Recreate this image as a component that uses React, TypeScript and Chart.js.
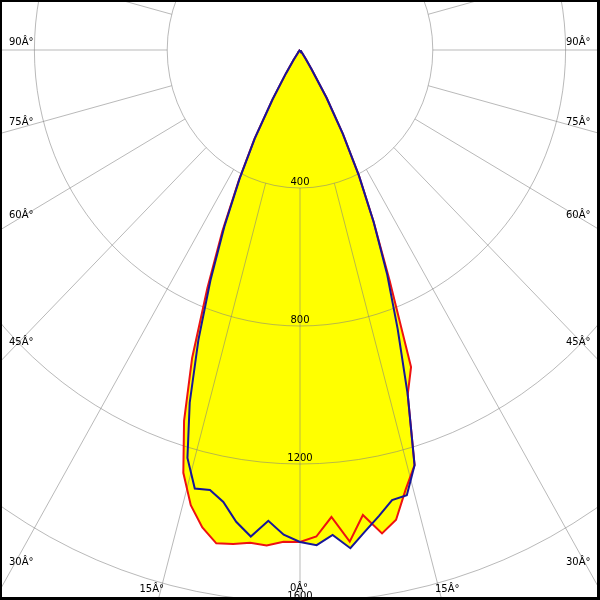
import React, { useEffect, useRef } from "react";
import { Chart, registerables } from "chart.js";

Chart.register(...registerables);

// Vertical angles (degrees from nadir)
const ANGLES = [
  0, 2, 4, 6, 8, 10, 12, 14, 16, 18, 20, 22, 24, 26, 28, 30, 32, 34, 36, 38,
  40, 42, 44, 46, 48, 50, 52, 54, 56, 58, 60, 62, 64, 66, 68, 70, 72, 74, 76,
  78, 80, 82, 84, 86, 88, 90,
];

// Luminous intensity (cd) – C0-C180 plane (red): left half = C180, right half = C0
const RED_LEFT = [
  1426, 1426, 1440, 1436, 1446, 1452, 1415, 1360, 1275, 1130, 950, 745, 575,
  420, 292, 166, 80, 35, 15, 8, 5, 4, 3, 3, 2, 2, 2, 2, 1, 1, 1, 1, 1, 1, 1, 1,
  0, 0, 0, 0, 0, 0, 0, 0, 0, 0,
];
const RED_RIGHT = [
  1426, 1411, 1357, 1433, 1361, 1423, 1392, 1314, 1252, 1050, 978, 720, 545,
  405, 275, 160, 65, 32, 15, 8, 5, 4, 3, 3, 2, 2, 2, 2, 1, 1, 1, 1, 1, 1, 1, 1,
  0, 0, 0, 0, 0, 0, 0, 0, 0, 0,
];
// C90-C270 plane (blue): left half = C270, right half = C90
const BLUE_LEFT = [
  1426, 1406, 1368, 1418, 1381, 1330, 1304, 1310, 1230, 1075, 895, 720, 560,
  415, 290, 165, 80, 35, 15, 8, 5, 4, 3, 3, 2, 2, 2, 2, 1, 1, 1, 1, 1, 1, 1, 1,
  0, 0, 0, 0, 0, 0, 0, 0, 0, 0,
];
const BLUE_RIGHT = [
  1426, 1436, 1409, 1452, 1409, 1371, 1334, 1330, 1252, 1050, 860, 700, 545,
  405, 275, 160, 65, 32, 15, 8, 5, 4, 3, 3, 2, 2, 2, 2, 1, 1, 1, 1, 1, 1, 1, 1,
  0, 0, 0, 0, 0, 0, 0, 0, 0, 0,
];

const RING_VALUES = [400, 800, 1200, 1600];
const SPOKE_STEP = 15;
const DEG = "\u00C2\u00B0";
const ANGLE_TICKS = [90, 75, 60, 45, 30, 15];

function toPoints(left: number[], right: number[]) {
  const pts: { x: number; y: number }[] = [];
  for (let i = ANGLES.length - 1; i >= 0; i--) {
    const a = (ANGLES[i] * Math.PI) / 180;
    pts.push({ x: -left[i] * Math.sin(a), y: left[i] * Math.cos(a) });
  }
  for (let i = 1; i < ANGLES.length; i++) {
    const a = (ANGLES[i] * Math.PI) / 180;
    pts.push({ x: right[i] * Math.sin(a), y: right[i] * Math.cos(a) });
  }
  return pts;
}

const polarPlugin = {
  id: "polarGrid",
  beforeDatasetsDraw(chart: any) {
    const ctx = chart.ctx;
    const xs = chart.scales.x;
    const ys = chart.scales.y;
    const cx = xs.getPixelForValue(0);
    const cy = ys.getPixelForValue(0);
    ctx.save();
    // yellow fill of both planes
    ctx.fillStyle = "#ffff00";
    for (let i = 0; i < chart.data.datasets.length; i++) {
      const meta = chart.getDatasetMeta(i);
      ctx.beginPath();
      meta.data.forEach((p: any, j: number) => {
        if (j === 0) ctx.moveTo(p.x, p.y);
        else ctx.lineTo(p.x, p.y);
      });
      ctx.closePath();
      ctx.fill();
    }
    // grid
    ctx.strokeStyle = "rgba(128,128,128,0.55)";
    ctx.lineWidth = 1;
    RING_VALUES.forEach((r) => {
      const rx = xs.getPixelForValue(r) - cx;
      const ry = ys.getPixelForValue(r) - cy;
      ctx.beginPath();
      ctx.ellipse(cx, cy, Math.abs(rx), Math.abs(ry), 0, 0, Math.PI * 2);
      ctx.stroke();
    });
    const r0 = RING_VALUES[0];
    const r1 = 6000;
    for (let a = 0; a < 360; a += SPOKE_STEP) {
      const t = (a * Math.PI) / 180;
      ctx.beginPath();
      ctx.moveTo(
        xs.getPixelForValue(r0 * Math.sin(t)),
        ys.getPixelForValue(r0 * Math.cos(t))
      );
      ctx.lineTo(
        xs.getPixelForValue(r1 * Math.sin(t)),
        ys.getPixelForValue(r1 * Math.cos(t))
      );
      ctx.stroke();
    }
    // ring labels
    ctx.fillStyle = "#000";
    ctx.font = '10px "DejaVu Sans"';
    ctx.textAlign = "center";
    ctx.textBaseline = "middle";
    RING_VALUES.forEach((r) => {
      ctx.fillText(String(r), cx, ys.getPixelForValue(r) - 6);
    });
    // angle labels
    const leftY: Record<number, number> = { 90: 42, 75: 122, 60: 215, 45: 342, 30: 562 };
    ctx.textAlign = "left";
    ANGLE_TICKS.forEach((a) => {
      const txt = a + DEG;
      if (a === 15) {
        ctx.textAlign = "right";
        ctx.fillText(txt, 164, 589);
        ctx.textAlign = "left";
        ctx.fillText(txt, 435, 589);
      } else {
        ctx.fillText(txt, 9, leftY[a]);
        ctx.fillText(txt, 566, leftY[a]);
      }
    });
    ctx.textAlign = "center";
    ctx.fillText("0" + DEG, 299, 588);
    ctx.restore();
  },
  afterDraw(chart: any) {
    const ctx = chart.ctx;
    const w = chart.width;
    const h = chart.height;
    ctx.save();
    ctx.fillStyle = "#000";
    ctx.fillRect(0, 0, w, 2);
    ctx.fillRect(0, 0, 2, h);
    ctx.fillRect(w - 3, 0, 3, h);
    ctx.fillRect(0, h - 3, w, 3);
    ctx.restore();
  },
};

export default function App() {
  const ref = useRef<HTMLCanvasElement | null>(null);
  useEffect(() => {
    document.body.style.margin = "0";
    if (!ref.current) return;
    const SX = 0.332; // px per cd horizontally
    const SY = 0.345; // px per cd vertically
    const chart = new Chart(ref.current, {
      type: "scatter",
      data: {
        datasets: [
          {
            label: "C0-C180",
            data: toPoints(RED_LEFT, RED_RIGHT),
            showLine: true,
            borderColor: "#ee1111",
            borderWidth: 2,
            pointRadius: 0,
            fill: false,
            order: 2,
          },
          {
            label: "C90-C270",
            data: toPoints(BLUE_LEFT, BLUE_RIGHT),
            showLine: true,
            borderColor: "#16169a",
            borderWidth: 2,
            pointRadius: 0,
            fill: false,
            order: 1,
          },
        ],
      },
      options: {
        animation: false,
        responsive: false,
        maintainAspectRatio: false,
        layout: { padding: 0 },
        scales: {
          x: { type: "linear", display: false, min: -300 / SX, max: 300 / SX },
          y: {
            type: "linear",
            display: false,
            reverse: true,
            min: -50 / SY,
            max: 550 / SY,
          },
        },
        plugins: { legend: { display: false }, tooltip: { enabled: false } },
      },
      plugins: [polarPlugin],
    });
    return () => chart.destroy();
  }, []);
  return (
    <div style={{ width: 600, height: 600, background: "#fff" }}>
      <canvas ref={ref} width={600} height={600} />
    </div>
  );
}
